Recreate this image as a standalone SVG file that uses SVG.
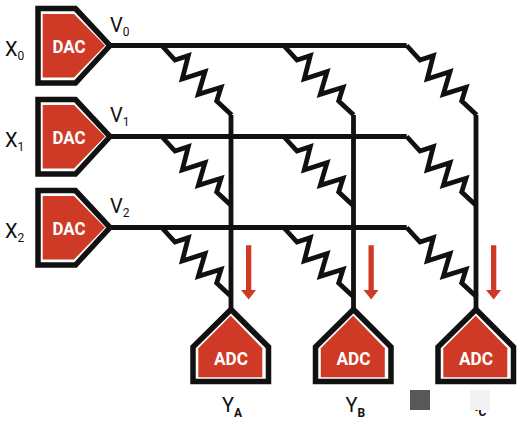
<svg xmlns="http://www.w3.org/2000/svg" width="521" height="421" viewBox="0 0 521 421">
<style>
.w{fill:none;stroke:#111;stroke-width:4.8;stroke-linejoin:miter}
.o{fill:#fff;stroke:#111;stroke-width:5.5;stroke-linejoin:miter}
.r{fill:#cf3a26}
.b{font-family:Roboto,"Liberation Sans",sans-serif;font-weight:700;font-size:18px;fill:#fff;text-anchor:middle}
.l{font-family:Roboto,"Liberation Sans",sans-serif;font-size:20px;fill:#111}
.s{font-size:12px}
.sb{font-size:12px;font-weight:700}
.a{fill:#cf3a26}
</style>
<defs>
<path id="z" class="w" d="M0 0L13.3 14.5L26.6 10.2L20.6 33.5L43.3 26.2L36.6 48.8L59.3 41.8L55 55.5L70 69.5"/>
<g id="dac"><path class="o" d="M38 8.5H75.5L110 45.5L75.5 83H38Z"/><path class="r" d="M42.7 14H74L105 45.5L74 77.5H42.7Z"/></g>
<g id="adc"><path class="o" d="M193 347L231 309.5L268.5 347V381.5H193Z"/><path class="r" d="M198.3 348.3L230.7 315.7L262.3 348.3V377.3H198.3Z"/></g>
<path id="ar" class="a" d="M246 245.3H251.3V290H256L248.7 299.5L241 290H246Z"/>
</defs>
<g id="connectors">
<path class="w" d="M108 45.5H406.7M108 136.5H406.7M108 227.5H406.7"/>
<path class="w" d="M231 115V312M353.5 115V312M476 115V312"/>
<use href="#z" x="161.7" y="45.5"/><use href="#z" x="283.7" y="45.5"/><use href="#z" x="406.7" y="45.5"/>
<use href="#z" x="161.7" y="136.5"/><use href="#z" x="283.7" y="136.5"/><use href="#z" x="406.7" y="136.5"/>
<use href="#z" x="161.7" y="227.5"/><use href="#z" x="283.7" y="227.5"/><use href="#z" x="406.7" y="227.5"/>
</g>
<g id="dac0"><use href="#dac"/><text class="b" x="69" y="52.5" textLength="33" lengthAdjust="spacingAndGlyphs">DAC</text><text class="l" x="5" y="56">X<tspan class="s" dy="4">0</tspan></text><text class="l" x="110" y="31.5">V<tspan class="s" dy="4">0</tspan></text></g>
<g id="dac1" transform="translate(0,91)"><use href="#dac"/><text class="b" x="69" y="52.5" textLength="33" lengthAdjust="spacingAndGlyphs">DAC</text><text class="l" x="5" y="55.5">X<tspan class="s" dy="4">1</tspan></text><text class="l" x="110" y="31">V<tspan class="s" dy="4">1</tspan></text></g>
<g id="dac2" transform="translate(0,182)"><use href="#dac"/><text class="b" x="69" y="52.5" textLength="33" lengthAdjust="spacingAndGlyphs">DAC</text><text class="l" x="5" y="55.5">X<tspan class="s" dy="4">2</tspan></text><text class="l" x="110" y="31">V<tspan class="s" dy="4">2</tspan></text></g>
<g id="adcA"><use href="#adc"/><text class="b" x="231" y="364.5" textLength="34" lengthAdjust="spacingAndGlyphs">ADC</text><use href="#ar"/><text class="l" x="222" y="411.5">Y<tspan class="sb" dy="5">A</tspan></text></g>
<g id="adcB" transform="translate(122.5,0)"><use href="#adc"/><text class="b" x="231" y="364.5" textLength="34" lengthAdjust="spacingAndGlyphs">ADC</text><use href="#ar"/><text class="l" x="223" y="411.5">Y<tspan class="sb" dy="5">B</tspan></text></g>
<g id="adcC" transform="translate(245,0)"><use href="#adc"/><text class="b" x="231" y="364.5" textLength="34" lengthAdjust="spacingAndGlyphs">ADC</text><use href="#ar"/><text class="l" x="225.5" y="411">Y<tspan class="sb" dy="5" dx="-4">C</tspan></text></g>
<rect x="410" y="390" width="20" height="20" fill="#595959"/>
<rect x="470" y="390" width="20" height="20" fill="#f2f2f2"/>
</svg>
